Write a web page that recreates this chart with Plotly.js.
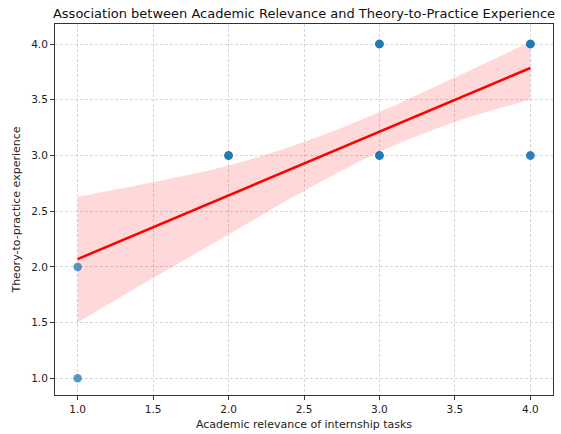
<!DOCTYPE html>
<html>
<head>
<meta charset="utf-8">
<script src="https://cdn.plot.ly/plotly-3.0.1.min.js"></script>
<style>html,body{margin:0;padding:0;background:#fff;}#chart{width:561px;height:434px;}</style>
</head>
<body>
<div id="chart"></div>
<script>
// Observations (duplicates make the darker, overlapping dots)
const obsX = [1, 1, 2, 2, 2, 3, 3, 3, 3, 3, 3, 4, 4, 4, 4, 4];
const obsY = [1, 2, 3, 3, 3, 3, 3, 3, 4, 4, 4, 3, 3, 4, 4, 4];

// Regression line
const fitX = [1, 4];
const fitY = [2.07, 3.785];

// Confidence band
const bandX     = [1,    1.5,  2,    2.5,  3,    3.5,  4];
const bandUpper = [2.63, 2.76, 2.91, 3.12, 3.39, 3.70, 4.02];
const bandLower = [1.50, 1.90, 2.29, 2.68, 3.03, 3.30, 3.50];

const titleText = "Association between Academic Relevance and Theory-to-Practice Experience";
const xTitle = "Academic relevance of internship tasks";
const yTitle = "Theory-to-practice experience";

const font = "DejaVu Sans, sans-serif";

const traces = [
  {x: bandX, y: bandLower, mode: "lines", line: {width: 0, shape: "spline"}, hoverinfo: "skip", showlegend: false},
  {x: bandX, y: bandUpper, mode: "lines", line: {width: 0, shape: "spline"}, fill: "tonexty",
   fillcolor: "rgba(255,0,0,0.15)", hoverinfo: "skip", showlegend: false},
  {x: obsX, y: obsY, mode: "markers", type: "scatter",
   marker: {color: "rgba(31,119,180,0.75)", size: 8.5, line: {width: 0}}, showlegend: false},
  {x: fitX, y: fitY, mode: "lines", line: {color: "#ff0000", width: 2.5}, showlegend: false}
];

const axisCommon = {
  showgrid: true, gridcolor: "rgba(176,176,176,0.5)", griddash: "3px,2px", gridwidth: 1,
  zeroline: false, showline: true, linecolor: "#333", linewidth: 1, mirror: true,
  ticks: "outside", ticklen: 4, tickwidth: 1, tickcolor: "#333",
  tickfont: {family: font, size: 10.5, color: "#222"}
};

const layout = {
  width: 561, height: 434,
  margin: {l: 55, r: 8, t: 24, b: 39},
  paper_bgcolor: "#fff", plot_bgcolor: "#fff",
  title: {text: titleText, font: {family: font, size: 13, color: "#111"},
          x: 0.5, xanchor: "center", xref: "paper", y: 0.97, yanchor: "middle"},
  xaxis: Object.assign({}, axisCommon, {
    range: [0.85, 4.15], tickvals: [1, 1.5, 2, 2.5, 3, 3.5, 4], ticktext: ["1.0","1.5","2.0","2.5","3.0","3.5","4.0"],
    title: {text: xTitle, font: {family: font, size: 11, color: "#222"}, standoff: 6}
  }),
  yaxis: Object.assign({}, axisCommon, {
    range: [0.85, 4.18], tickvals: [1, 1.5, 2, 2.5, 3, 3.5, 4], ticktext: ["1.0","1.5","2.0","2.5","3.0","3.5","4.0"],
    title: {text: yTitle, font: {family: font, size: 11, color: "#222"}, standoff: 8}
  })
};

Plotly.newPlot("chart", traces, layout, {displayModeBar: false, staticPlot: true});
</script>
</body>
</html>
